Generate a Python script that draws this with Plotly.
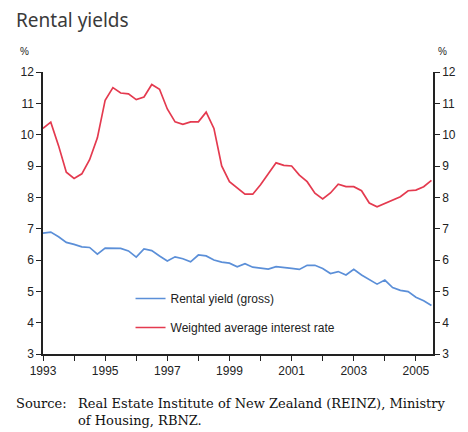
import plotly.graph_objects as go

# ---- data (quarterly, 1993Q1 - 2005Q3) ----
years = list(range(1993, 2006))
quarters = [y + q / 4 for y in years for q in range(4)][:51]

rental_yield = [
    6.86, 6.89, 6.74, 6.56,
    6.50, 6.42, 6.40, 6.19,
    6.38, 6.37, 6.37, 6.29,
    6.09, 6.35, 6.30, 6.13,
    5.97, 6.10, 6.04, 5.94,
    6.16, 6.13, 6.00, 5.93,
    5.90, 5.78, 5.88, 5.77,
    5.74, 5.71, 5.79, 5.77,
    5.73, 5.70, 5.83, 5.83,
    5.73, 5.57, 5.63, 5.52,
    5.70, 5.52, 5.38, 5.23,
    5.36, 5.12, 5.03, 4.99,
    4.81, 4.70, 4.55,
]
interest_rate = [
    10.20, 10.40, 9.65, 8.80,
    8.60, 8.75, 9.20, 9.90,
    11.10, 11.50, 11.33, 11.30,
    11.12, 11.20, 11.60, 11.45,
    10.82, 10.41, 10.33, 10.41,
    10.41, 10.72, 10.20, 9.00,
    8.50, 8.30, 8.10, 8.10,
    8.40, 8.75, 9.10, 9.02,
    9.00, 8.71, 8.50, 8.13,
    7.95, 8.14, 8.42, 8.34,
    8.34, 8.21, 7.82, 7.70,
    7.80, 7.91, 8.02, 8.21,
    8.23, 8.34, 8.54,
]
x_tickvals = [1993, 1995, 1997, 1999, 2001, 2003, 2005]
y_tickvals = list(range(3, 13))

series_names = ["Rental yield (gross)", "Weighted average interest rate"]
series_colors = ["#5b8fd8", "#e43a4f"]

# ---- geometry (page body has an 8px margin) ----
OFF = 8
W, H = 468 - OFF, 432 - OFF
L, T = 34, 64
R = W - 435
B = H - 346
PW, PH = W - L - R, H - T - B


def px(xp):  # xp: page pixel
    return (xp - OFF - L) / PW


def py(yp):
    return (H - B - (yp - OFF)) / PH


fig = go.Figure()
fig.add_trace(go.Scatter(
    x=quarters, y=rental_yield, mode="lines", name=series_names[0],
    line=dict(color=series_colors[0], width=1.7), legendgroup="a",
))
fig.add_trace(go.Scatter(
    x=quarters, y=interest_rate, mode="lines", name=series_names[1],
    line=dict(color=series_colors[1], width=1.7), legendgroup="b",
))
# invisible trace to drive the right axis
fig.add_trace(go.Scatter(
    x=quarters, y=interest_rate, mode="lines", yaxis="y2",
    line=dict(width=0), showlegend=False, hoverinfo="skip", opacity=0,
))

tickfont = dict(family="Liberation Sans, Arial, sans-serif", size=12, color="#222")
axcol = "#222"
serif = dict(family="DejaVu Serif, Liberation Serif, serif", size=13, color="#111")

fig.update_layout(
    width=W, height=H,
    margin=dict(l=L, r=R, t=T, b=B),
    paper_bgcolor="white", plot_bgcolor="white",
    showlegend=True,
    legend=dict(
        x=px(132), y=py(284), xanchor="left", yanchor="top",
        bgcolor="rgba(0,0,0,0)",
        font=dict(family="Liberation Sans, Arial, sans-serif", size=12, color="#222"),
        tracegroupgap=10,
    ),
    xaxis=dict(
        range=[1993, 2005.55], tickvals=x_tickvals,
        ticktext=[str(v) for v in x_tickvals],
        ticks="outside", ticklen=5, tickwidth=1.3, tickcolor=axcol,
        showline=True, linecolor=axcol, linewidth=1.5,
        showgrid=False, zeroline=False, tickfont=tickfont,
        minor=dict(dtick=1, tick0=1993, ticks="outside", ticklen=5,
                   tickwidth=1.3, tickcolor=axcol, showgrid=False),
    ),
    yaxis=dict(
        range=[3, 12], tickvals=y_tickvals,
        ticks="outside", ticklen=5, tickwidth=1.3, tickcolor=axcol,
        showline=True, linecolor=axcol, linewidth=1.5,
        showgrid=False, zeroline=False, tickfont=tickfont,
    ),
    yaxis2=dict(
        range=[3, 12], tickvals=y_tickvals, overlaying="y", side="right",
        ticks="outside", ticklen=5, tickwidth=1.3, tickcolor=axcol,
        showline=True, linecolor=axcol, linewidth=1.5,
        showgrid=False, zeroline=False, tickfont=tickfont,
    ),
    annotations=[
        dict(text="Rental yields", xref="paper", yref="paper",
             x=px(12), y=py(20), xanchor="left", yanchor="middle", showarrow=False,
             font=dict(family="Noto Sans, Open Sans, sans-serif", size=19, color="#3a3a3a")),
        dict(text="%", xref="paper", yref="paper",
             x=px(23), y=py(52), xanchor="center", yanchor="middle", showarrow=False,
             font=dict(family="Liberation Sans, Arial, sans-serif", size=10, color="#222")),
        dict(text="%", xref="paper", yref="paper",
             x=px(453), y=py(52), xanchor="center", yanchor="middle", showarrow=False,
             font=dict(family="Liberation Sans, Arial, sans-serif", size=10, color="#222")),
        dict(text="Source:", xref="paper", yref="paper",
             x=px(12), y=py(403), xanchor="left", yanchor="middle", showarrow=False,
             font=serif),
        dict(text="Real Estate Institute of New Zealand (REINZ), Ministry", xref="paper", yref="paper",
             x=px(76), y=py(403), xanchor="left", yanchor="middle", showarrow=False,
             font=serif),
        dict(text="of Housing, RBNZ.", xref="paper", yref="paper",
             x=px(76), y=py(420), xanchor="left", yanchor="middle", showarrow=False,
             font=serif),
    ],
)

fig.write_html("out.html")
